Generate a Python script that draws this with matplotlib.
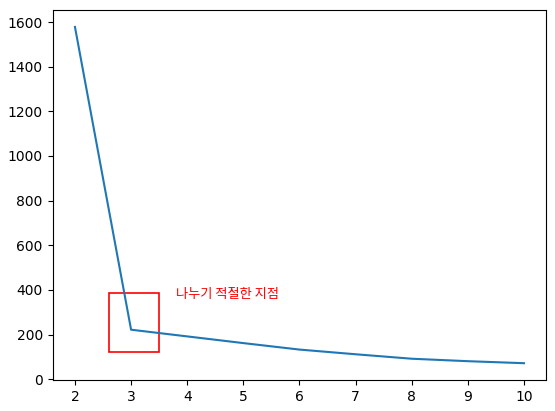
import matplotlib
matplotlib.use("Agg")
import matplotlib.pyplot as plt
from matplotlib.patches import Rectangle

plt.rcParams['font.family'] = ['Noto Sans CJK KR', 'DejaVu Sans']
plt.rcParams['axes.unicode_minus'] = False

# 클러스터 수 vs inertia
k_values = [2, 3, 4, 5, 6, 7, 8, 9, 10]
inertia = [1578, 222, 192, 162, 133, 112, 92, 81, 72]

annot_text = '나누기 적절한 지점'

fig = plt.figure(figsize=(5.55, 4.11), dpi=100)
ax = fig.add_axes([0.0946, 0.0754, 0.890, 0.900])

ax.plot(k_values, inertia)

# 엘보우 지점 표시
ax.add_patch(Rectangle((2.6, 120), 0.9, 265, fill=False, edgecolor='red', linewidth=1.2))
ax.text(3.8, 365, annot_text, color='red', fontsize=9.5, fontweight='medium')

for lbl in ax.get_xticklabels() + ax.get_yticklabels():
    lbl.set_family('DejaVu Sans')

fig.savefig('out.png', dpi=100)
